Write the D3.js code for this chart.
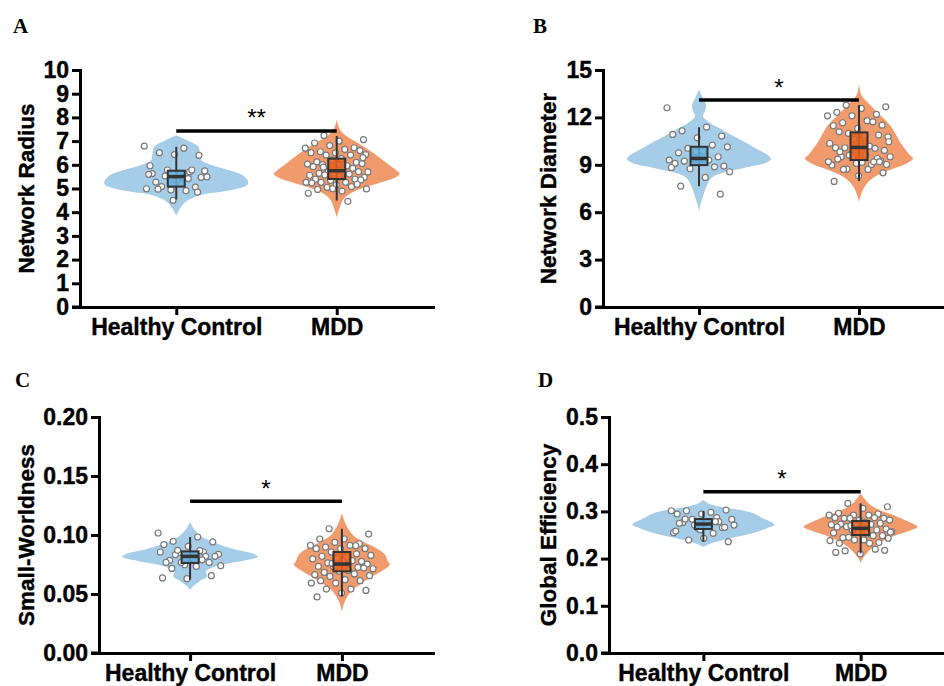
<!DOCTYPE html>
<html>
<head>
<meta charset="utf-8">
<script src="https://cdn.jsdelivr.net/npm/d3@7"></script>
<style>
  body { margin: 0; background: #fff; }
  svg { display: block; font-family: "Liberation Sans", Arial, sans-serif; }
</style>
</head>
<body>
<svg id="chart" width="944" height="686"></svg>
<script>
var groups = ['Healthy Control', 'MDD'];

// tick values for each panel
var radiusTicks = [0, 1, 2, 3, 4, 5, 6, 7, 8, 9, 10];
var diameterTicks = [0, 3, 6, 9, 12, 15];
var smallWorldTicks = [0, 0.05, 0.10, 0.15, 0.20];
var efficiencyTicks = [0, 0.1, 0.2, 0.3, 0.4, 0.5];

// individual subjects
var hcRadius = [6.79, 6.70, 6.51, 6.40, 6.43, 5.96, 5.70, 5.53, 5.74, 5.22, 5.27, 5.06, 4.94, 4.99,
  4.91, 5.08, 5.47, 5.35, 5.63, 5.78, 5.78, 5.49, 5.47, 4.97, 4.85, 4.50, 5.60, 5.42];
var mddRadius = [7.24, 7.06, 7.00, 6.92, 6.72, 6.81, 6.70, 6.65, 6.55, 6.60, 6.50, 6.51, 6.41, 6.41,
  6.43, 6.26, 6.12, 6.10, 6.20, 6.03, 5.96, 6.01, 6.05, 6.01, 5.92, 5.85, 5.71, 5.70, 5.64, 5.64,
  5.71, 5.63, 5.56, 5.61, 5.57, 5.47, 5.56, 5.39, 5.39, 5.34, 5.26, 5.26, 5.26, 5.36, 5.15, 5.24,
  5.08, 5.05, 4.98, 4.89, 4.96, 5.18, 4.99, 4.80, 4.46, 5.90, 6.30, 5.50];

var hcDiameter = [12.61, 11.39, 11.15, 10.82, 10.71, 10.92, 10.25, 10.04, 10.14, 9.87, 9.76, 9.51,
  9.38, 9.30, 9.30, 9.23, 8.92, 9.34, 9.09, 8.87, 8.75, 8.56, 8.20, 7.65, 7.14, 9.82, 8.83];
var mddDiameter = [12.78, 12.67, 12.57, 12.32, 12.19, 12.10, 12.10, 11.79, 11.66, 11.51, 11.30,
  11.47, 11.72, 10.99, 10.77, 10.71, 11.09, 10.88, 10.63, 10.35, 10.18, 10.08, 9.91, 10.20, 10.08,
  10.04, 9.66, 9.51, 9.61, 9.51, 9.23, 9.09, 8.98, 9.02, 8.73, 9.02, 9.15, 9.36, 9.40, 9.51, 9.19,
  8.71, 8.71, 8.49, 8.30, 7.95, 9.19, 9.61, 10.46, 10.84, 9.82, 9.19];

var hcSmallWorld = [0.1017, 0.0983, 0.0946, 0.0941, 0.0903, 0.0918, 0.0856, 0.0850, 0.0836, 0.0819,
  0.0785, 0.0768, 0.0748, 0.0856, 0.0867, 0.0833, 0.0819, 0.0805, 0.0768, 0.0819, 0.0768, 0.0740,
  0.0734, 0.0717, 0.0655, 0.0630, 0.0636, 0.0790, 0.0870];
var mddSmallWorld = [0.1053, 0.1008, 0.0966, 0.0966, 0.0926, 0.0937, 0.0912, 0.0912, 0.0898, 0.0884,
  0.0884, 0.0884, 0.0909, 0.0856, 0.0827, 0.0814, 0.0820, 0.0776, 0.0805, 0.0797, 0.0782, 0.0763,
  0.0754, 0.0776, 0.0734, 0.0725, 0.0730, 0.0714, 0.0700, 0.0683, 0.0720, 0.0692, 0.0664, 0.0670,
  0.0649, 0.0655, 0.0621, 0.0613, 0.0613, 0.0593, 0.0593, 0.0542, 0.0542, 0.0530, 0.0508, 0.0475,
  0.0840, 0.0760];

var hcEfficiency = [0.3014, 0.2980, 0.3014, 0.3028, 0.2944, 0.2944, 0.2866, 0.2832, 0.2832, 0.2747,
  0.2768, 0.2654, 0.2640, 0.2549, 0.2535, 0.2394, 0.2359, 0.2430, 0.2747, 0.2782, 0.2711, 0.2711,
  0.2704, 0.2838, 0.2663, 0.2612, 0.2584, 0.2782];
var mddEfficiency = [0.3170, 0.3098, 0.3064, 0.2959, 0.2945, 0.2923, 0.2923, 0.2923, 0.2853, 0.2853,
  0.2817, 0.2866, 0.2866, 0.2853, 0.2817, 0.2768, 0.2732, 0.2746, 0.2711, 0.2718, 0.2725, 0.2676,
  0.2627, 0.2669, 0.2669, 0.2606, 0.2606, 0.2570, 0.2521, 0.2443, 0.2486, 0.2557, 0.2543, 0.2486,
  0.2451, 0.2430, 0.2395, 0.2325, 0.2339, 0.2395, 0.2381, 0.2325, 0.2162, 0.2176, 0.2099, 0.2130,
  0.2200, 0.2700, 0.2560];

// box stats: [low whisker, q1, median, q3, high whisker]
var hcRadiusBox = [4.54, 5.08, 5.50, 5.75, 6.76];
var mddRadiusBox = [4.49, 5.40, 5.75, 6.26, 7.22];
var hcDiameterBox = [7.65, 8.98, 9.40, 10.14, 11.37];
var mddDiameterBox = [7.97, 9.30, 10.10, 11.05, 12.78];
var hcSmallWorldBox = [0.0621, 0.0763, 0.0819, 0.0861, 0.0983];
var mddSmallWorldBox = [0.0480, 0.0692, 0.0754, 0.0856, 0.1053];
var hcEfficiencyBox = [0.2359, 0.2627, 0.2732, 0.2838, 0.3007];
var mddEfficiencyBox = [0.2113, 0.2500, 0.2642, 0.2796, 0.3170];

// violin outlines: [value, relative density]
var hcRadiusViolin = [[7.25, 0], [7.05, 10], [6.77, 22], [6.41, 24], [6.2, 25], [5.99, 35], [5.78, 52],
  [5.57, 66], [5.29, 72], [5.15, 71], [5.01, 63], [4.86, 45], [4.73, 25], [4.51, 12], [4.23, 5], [3.85, 0]];
var mddRadiusViolin = [[7.9, 0], [7.5, 3], [7.2, 10], [6.9, 22], [6.6, 33], [6.3, 43], [6.0, 52],
  [5.75, 60], [5.62, 63], [5.45, 58], [5.25, 44], [5.0, 25], [4.75, 12], [4.5, 6], [4.2, 3], [3.8, 0]];
var hcDiameterViolin = [[13.75, 0], [13.2, 4], [12.8, 7], [12.4, 6], [12.05, 4], [11.7, 10], [11.3, 21],
  [10.9, 32], [10.4, 47], [10.0, 58], [9.6, 69], [9.35, 72], [9.1, 66], [8.8, 45], [8.5, 24], [8.2, 13],
  [7.7, 8], [7.0, 4], [6.4, 1], [6.0, 0]];
var mddDiameterViolin = [[14.15, 0], [13.4, 2.5], [12.8, 11], [12.15, 21], [11.5, 31], [10.9, 37],
  [10.45, 41], [10.0, 46], [9.6, 51], [9.4, 54], [9.1, 48], [8.7, 32], [8.35, 19], [7.9, 9], [7.3, 3], [6.65, 0]];
var hcSmallWorldViolin = [[0.111, 0], [0.105, 4], [0.099, 11], [0.093, 26], [0.0875, 46], [0.084, 64],
  [0.0815, 68], [0.078, 52], [0.0735, 26], [0.069, 16], [0.065, 17], [0.061, 10], [0.0565, 3], [0.0535, 0]];
var mddSmallWorldViolin = [[0.1185, 0], [0.109, 4], [0.100, 11], [0.0945, 21], [0.089, 34], [0.0835, 43],
  [0.0775, 46], [0.075, 48], [0.069, 39], [0.0635, 28], [0.058, 18], [0.052, 9], [0.044, 3], [0.035, 0]];
var hcEfficiencyViolin = [[0.324, 0], [0.317, 5], [0.310, 17], [0.303, 37], [0.296, 50], [0.285, 60],
  [0.275, 70], [0.271, 71], [0.264, 63], [0.254, 50], [0.243, 27], [0.2325, 8], [0.225, 0]];
var mddEfficiencyViolin = [[0.338, 0], [0.317, 8], [0.303, 19], [0.292, 33], [0.282, 44], [0.271, 55],
  [0.267, 57], [0.2605, 51], [0.250, 36], [0.239, 24], [0.225, 13], [0.211, 6], [0.200, 2], [0.190, 0]];

// significance bracket heights and labels
var sigLevels = [7.43, 13.1, 0.1285, 0.3415];
var sigLabels = ['**', '*', '*', '*'];

var colors = {
  violin: ['#a6cde8', '#f19a6c'],
  box: ['#64acdb', '#e5601e']
};

var sansFont = '"Liberation Sans", Arial, sans-serif';
var serifFont = '"Liberation Serif", "Times New Roman", serif';

var panels = [
  { letter: 'A', title: 'Network Radius', vals: [hcRadius, mddRadius], box: [hcRadiusBox, mddRadiusBox],
    violin: [hcRadiusViolin, mddRadiusViolin], ticks: radiusTicks, fmt: d3.format('d'),
    left: 80, right: 433, top: 70, bottom: 307, half: 72, titleX: 26, lx: 13, ly: 33 },
  { letter: 'B', title: 'Network Diameter', vals: [hcDiameter, mddDiameter], box: [hcDiameterBox, mddDiameterBox],
    violin: [hcDiameterViolin, mddDiameterViolin], ticks: diameterTicks, fmt: d3.format('d'),
    left: 603, right: 955, top: 70, bottom: 307, half: 72, titleX: 548, lx: 533, ly: 33 },
  { letter: 'C', title: 'Small-Worldness', vals: [hcSmallWorld, mddSmallWorld], box: [hcSmallWorldBox, mddSmallWorldBox],
    violin: [hcSmallWorldViolin, mddSmallWorldViolin], ticks: smallWorldTicks, fmt: d3.format('.2f'),
    left: 99, right: 433, top: 417, bottom: 653, half: 68, titleX: 26, lx: 15, ly: 387 },
  { letter: 'D', title: 'Global Efficiency', vals: [hcEfficiency, mddEfficiency], box: [hcEfficiencyBox, mddEfficiencyBox],
    violin: [hcEfficiencyViolin, mddEfficiencyViolin], ticks: efficiencyTicks, fmt: d3.format('.1f'),
    left: 609, right: 955, top: 417, bottom: 653, half: 71, titleX: 548, lx: 538, ly: 387 }
];

var svg = d3.select('#chart');

panels.forEach(function (p, pi) {
  var g = svg.append('g');

  var x = d3.scalePoint().domain(groups).range([p.left, p.right]).padding(0.6);
  var y = d3.scaleLinear().domain(d3.extent(p.ticks)).range([p.bottom, p.top]);
  var maxD = d3.max(p.violin[0].concat(p.violin[1]), function (d) { return d[1]; });
  var w = d3.scaleLinear().domain([0, maxD]).range([0, p.half]);

  groups.forEach(function (grp, gi) {
    var cx = x(grp);

    var area = d3.area()
      .curve(d3.curveCatmullRom.alpha(0.5))
      .y(function (d) { return y(d[0]); })
      .x0(function (d) { return cx - w(d[1]); })
      .x1(function (d) { return cx + w(d[1]); });

    g.append('path')
      .datum(p.violin[gi])
      .attr('d', area)
      .attr('fill', colors.violin[gi]);

    // jittered points (low-discrepancy spread, not random)
    g.selectAll(null)
      .data(p.vals[gi])
      .enter().append('circle')
      .attr('cx', function (d, i) { return cx + (((i * 0.618034 + gi * 0.3) % 1) - 0.5) * 64; })
      .attr('cy', function (d) { return y(d); })
      .attr('r', 3)
      .attr('fill', '#fff')
      .attr('stroke', '#7a7a7a')
      .attr('stroke-width', 1.2);

    var b = p.box[gi];
    g.append('line')
      .attr('x1', cx).attr('x2', cx)
      .attr('y1', y(b[0])).attr('y2', y(b[4]))
      .attr('stroke', '#333').attr('stroke-width', 2);
    g.append('rect')
      .attr('x', cx - 8.5).attr('width', 17)
      .attr('y', y(b[3])).attr('height', y(b[1]) - y(b[3]))
      .attr('fill', colors.box[gi]).attr('fill-opacity', 0.88)
      .attr('stroke', '#333').attr('stroke-width', 2);
    g.append('line')
      .attr('x1', cx - 8.5).attr('x2', cx + 8.5)
      .attr('y1', y(b[2])).attr('y2', y(b[2]))
      .attr('stroke', '#333').attr('stroke-width', 3.5);
  });

  // axes
  var yAxis = g.append('g')
    .attr('transform', 'translate(' + p.left + ',0)')
    .call(d3.axisLeft(y).tickValues(p.ticks).tickFormat(p.fmt).tickSize(8).tickSizeOuter(0).tickPadding(3));
  var xAxis = g.append('g')
    .attr('transform', 'translate(0,' + p.bottom + ')')
    .call(d3.axisBottom(x).tickSize(8).tickSizeOuter(0).tickPadding(4));

  [yAxis, xAxis].forEach(function (ax) {
    ax.select('.domain').attr('stroke', '#000').attr('stroke-width', 3).attr('stroke-linecap', 'square');
    ax.selectAll('.tick line').attr('stroke', '#000').attr('stroke-width', 3);
    ax.selectAll('.tick text')
      .attr('fill', '#000')
      .attr('stroke', '#000')
      .attr('stroke-width', 0.4)
      .style('font-size', '23px')
      .style('font-weight', 'bold')
      .style('font-family', sansFont);
  });
  // extend x baseline under the y tick
  g.append('line')
    .attr('x1', p.left - 8).attr('x2', p.left)
    .attr('y1', p.bottom).attr('y2', p.bottom)
    .attr('stroke', '#000').attr('stroke-width', 3);

  // y title
  g.append('text')
    .attr('transform', 'translate(' + p.titleX + ',' + ((p.top + p.bottom) / 2) + ') rotate(-90)')
    .attr('dy', '0.36em')
    .attr('text-anchor', 'middle')
    .attr('stroke', '#000')
    .attr('stroke-width', 0.4)
    .style('font-family', sansFont)
    .style('font-size', '22.5px')
    .style('font-weight', 'bold')
    .text(p.title);

  // significance bracket
  var sy = y(sigLevels[pi]);
  g.append('line')
    .attr('x1', x(groups[0])).attr('x2', x(groups[1]))
    .attr('y1', sy).attr('y2', sy)
    .attr('stroke', '#000').attr('stroke-width', 3.5);
  g.append('text')
    .attr('x', (x(groups[0]) + x(groups[1])) / 2)
    .attr('y', sy - 4.5)
    .attr('text-anchor', 'middle')
    .style('font-family', sansFont)
    .style('font-size', '24px')
    .text(sigLabels[pi]);

  // panel letter
  g.append('text')
    .attr('x', p.lx).attr('y', p.ly)
    .style('font-family', serifFont)
    .style('font-weight', 'bold')
    .style('font-size', '21px')
    .text(p.letter);
});
</script>
</body>
</html>
